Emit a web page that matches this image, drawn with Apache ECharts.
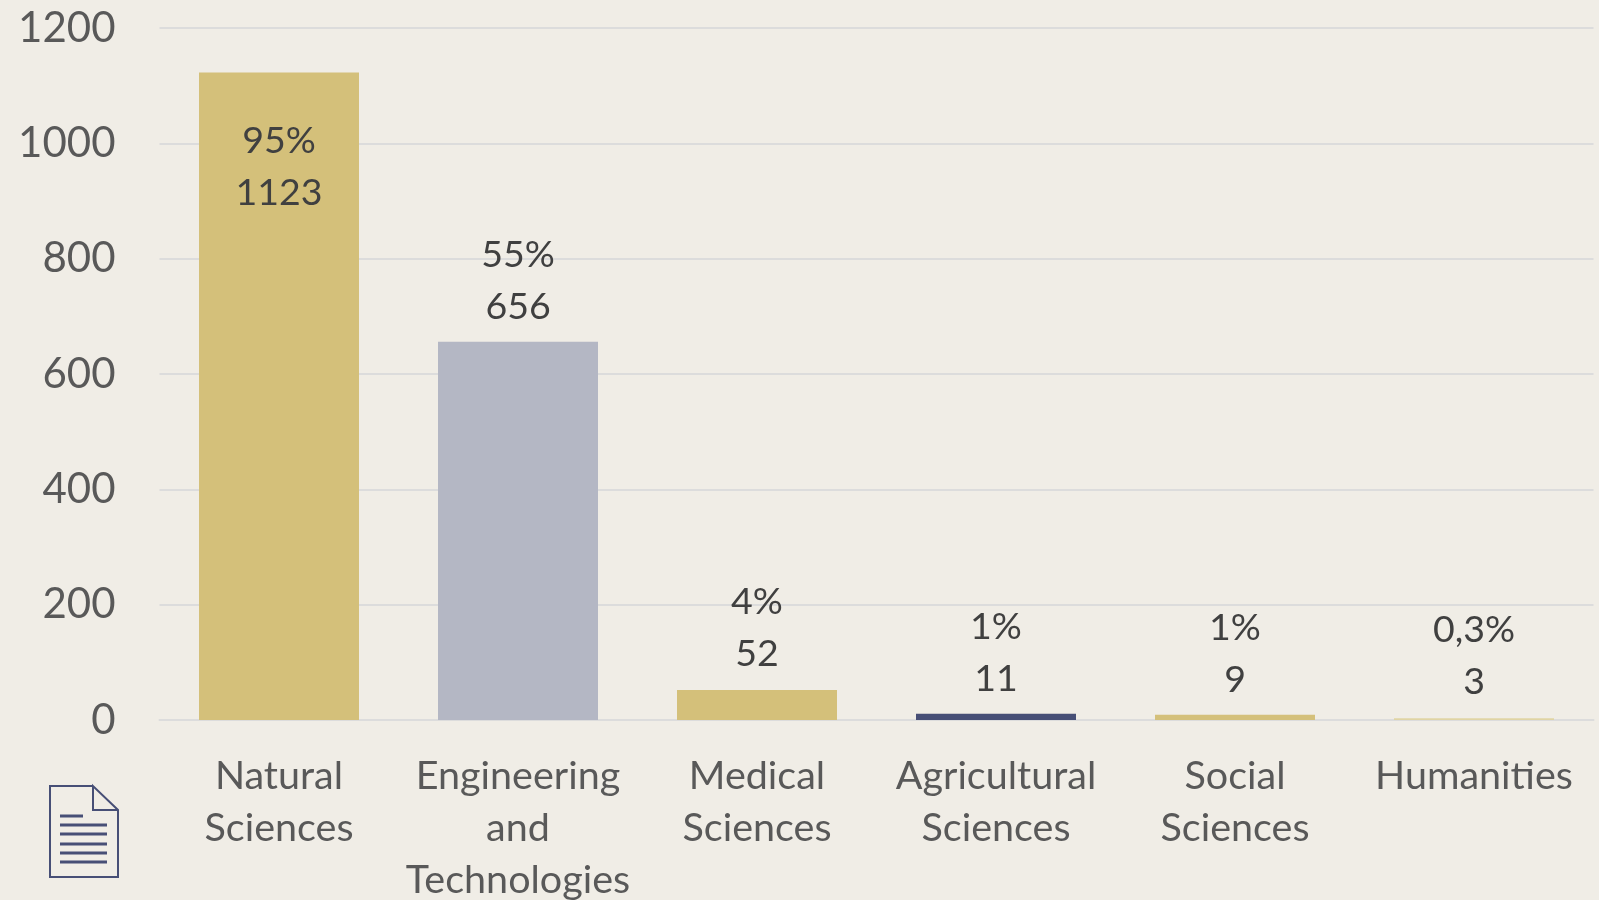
<!DOCTYPE html>
<html><head><meta charset="utf-8">
<style>html,body{margin:0;padding:0;background:#f0ede6}#c{width:1599px;height:900px}</style>
<script src="https://cdn.jsdelivr.net/npm/echarts@6/dist/echarts.min.js"></script>
</head><body><div id="c"></div>
<script>
const categories = ["Natural\nSciences","Engineering\nand\nTechnologies","Medical\nSciences","Agricultural\nSciences","Social\nSciences","Humanities"];
const values = [1123,656,52,11,9,3];
const percents = ["95%","55%","4%","1%","1%","0,3%"];
const colors = ["#d4c07a","#b4b7c4","#d4c07a","#474f76","#d4c07a","#e0d4a4"];
const yTicks = {min:0,max:1200,interval:200};
const labelDistances = [43,9,10,9,9,10];
const font = "Lato, Carlito, sans-serif";
const chart = echarts.init(document.getElementById('c'),null,{renderer:'canvas'});
const navy = '#474f76';
const lines = [[60,816,83],[60,825,107],[60,834,107],[60,844,107],[60,853,107],[60,862,107]];
chart.setOption({
  animation:false,
  backgroundColor:'#f0ede6',
  grid:{left:159.5,right:5.5,top:28,bottom:180,containLabel:false,outerBoundsMode:'none'},
  xAxis:{type:'category',data:categories,
    axisLine:{show:true,lineStyle:{color:'#dcdcdc',width:2}},axisTick:{show:false},
    axisLabel:{interval:0,color:'#595959',fontFamily:font,fontSize:39.5,lineHeight:52,margin:30,hideOverlap:false}},
  yAxis:{type:'value',min:yTicks.min,max:yTicks.max,interval:yTicks.interval,
    axisLine:{show:false},axisTick:{show:false},
    splitLine:{lineStyle:{color:'#dcdcdc',width:2}},
    axisLabel:{color:'#595959',fontFamily:font,fontSize:42,margin:44,formatter:v=>String(v)}},
  series:[{type:'bar',barWidth:160,
    data:values.map((v,i)=>({value:v,itemStyle:{color:colors[i]},
      label:{position:i===0?'insideTop':'top',distance:labelDistances[i]}})),
    label:{show:true,color:'#404040',fontFamily:font,fontSize:37.5,lineHeight:52,
      formatter:p=>percents[p.dataIndex]+'\n'+p.value}}],
  graphic:[
    {type:'polyline',z:10,shape:{points:[[93,786],[50,786],[50,877],[118,877],[118,810],[93,786],[93,810],[118,810]]},
     style:{stroke:navy,lineWidth:2,fill:null}},
    ...lines.map(([x1,y,x2])=>({type:'line',z:10,shape:{x1,y1:y,x2,y2:y},style:{stroke:navy,lineWidth:3}}))
  ]
});
</script></body></html>
